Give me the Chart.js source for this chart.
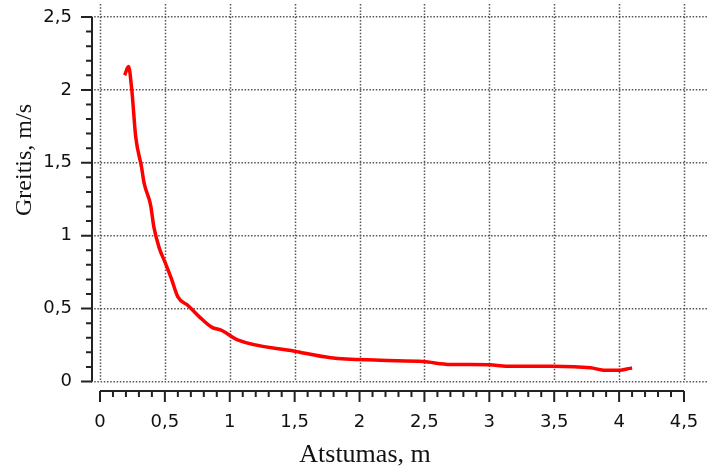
<!DOCTYPE html>
<html>
<head>
<meta charset="utf-8">
<script src="https://cdn.jsdelivr.net/npm/chart.js@4.4.1/dist/chart.umd.min.js"></script>
<style>
  html, body { margin: 0; padding: 0; background: #fff; }
  #wrap { width: 708px; height: 470px; }
</style>
</head>
<body>
<div id="wrap"><canvas id="speedChart" width="708" height="470"></canvas></div>
<script>
// distance from the source (m) and measured flow speed (m/s)
const distance = [0.19, 0.22, 0.245, 0.275, 0.32, 0.34, 0.39, 0.415, 0.455, 0.50, 0.55, 0.60, 0.68, 0.77, 0.86, 0.94, 1.06, 1.5, 1.78, 2.16, 2.49, 2.70, 3.0, 3.13, 3.49, 3.78, 3.88, 4.01, 4.06, 4.10];
const speed = [2.10, 2.16, 2.0, 1.68, 1.47, 1.36, 1.21, 1.06, 0.92, 0.82, 0.705, 0.58, 0.52, 0.44, 0.373, 0.35, 0.285, 0.208, 0.163, 0.146, 0.137, 0.117, 0.115, 0.104, 0.105, 0.094, 0.078, 0.077, 0.086, 0.092];

const xTicks = [0, 0.5, 1, 1.5, 2, 2.5, 3, 3.5, 4, 4.5];
const yTicks = [0, 0.5, 1, 1.5, 2, 2.5];
const xTitle = 'Atstumas, m';
const yTitle = 'Greitis, m/s';

const fmt = v => String(v).replace('.', ',');
const tickFont = { family: 'DejaVu Sans', size: 18 };
const gridColor = '#555';
const gridDash = [1.5, 1.7];

// no extra room for edge labels, the area is sized by hand
const noPadding = s => {
  s.paddingTop = 0; s.paddingBottom = 0;
  s.paddingLeft = 0; s.paddingRight = 0;
};

// axes lines with major/minor tick marks, vertical grid and axis titles
const axesPlugin = {
  id: 'axes',
  beforeDatasetsDraw(chart) {
    const { ctx, chartArea, scales: { x, y } } = chart;
    ctx.save();
    ctx.strokeStyle = gridColor;
    ctx.lineWidth = 1.5;
    ctx.setLineDash(gridDash);
    xTicks.forEach(v => {
      const px = Math.round(x.getPixelForValue(v)) + 0.5;
      ctx.beginPath();
      ctx.moveTo(px, chartArea.top);
      ctx.lineTo(px, y.getPixelForValue(0));
      ctx.stroke();
    });
    ctx.restore();
  },
  afterDraw(chart) {
    const { ctx, chartArea, scales: { x, y } } = chart;
    ctx.save();
    ctx.strokeStyle = '#222';
    ctx.lineWidth = 2;
    const ax = chartArea.left + 1;
    const ay = chartArea.bottom - 1;
    ctx.beginPath();
    ctx.moveTo(ax, y.getPixelForValue(0));
    ctx.lineTo(ax, y.getPixelForValue(2.5));
    ctx.moveTo(x.getPixelForValue(0), ay);
    ctx.lineTo(x.getPixelForValue(4.5), ay);
    for (let i = 0; i <= 25; i++) {
      const py = y.getPixelForValue(i / 10);
      ctx.moveTo(ax, py);
      ctx.lineTo(ax - (i % 5 === 0 ? 11 : 6), py);
    }
    for (let i = 0; i <= 45; i++) {
      const px = x.getPixelForValue(i / 10);
      ctx.moveTo(px, ay);
      ctx.lineTo(px, ay + (i % 5 === 0 ? 11 : 6));
    }
    ctx.stroke();

    ctx.fillStyle = '#111';
    ctx.textAlign = 'center';
    ctx.textBaseline = 'middle';
    ctx.font = '26px "Liberation Serif"';
    ctx.fillText(xTitle, 365, 455);
    ctx.font = '24px "Liberation Serif"';
    ctx.translate(25, 160);
    ctx.rotate(-Math.PI / 2);
    ctx.fillText(yTitle, 0, 0);
    ctx.restore();
  }
};

new Chart(document.getElementById('speedChart'), {
  type: 'line',
  data: {
    datasets: [{
      data: distance.map((d, i) => ({ x: d, y: speed[i] })),
      borderColor: '#ff0000',
      borderWidth: 3.5,
      pointRadius: 0,
      fill: false,
      cubicInterpolationMode: 'monotone'
    }]
  },
  options: {
    responsive: false,
    animation: false,
    layout: { padding: { top: 4, right: 0, left: 0, bottom: 0 } },
    plugins: { legend: { display: false }, tooltip: { enabled: false } },
    scales: {
      x: {
        type: 'linear',
        min: -0.0693,
        max: 4.685,
        afterBuildTicks: s => { s.ticks = xTicks.map(v => ({ value: v })); },
        afterFit: s => { s.height = 78; noPadding(s); },
        grid: { display: false, drawTicks: false },
        border: { display: false },
        ticks: { font: tickFont, color: '#111', padding: 20, maxRotation: 0, callback: v => fmt(v) }
      },
      y: {
        type: 'linear',
        min: -0.072,
        max: 2.589,
        afterBuildTicks: s => { s.ticks = yTicks.map(v => ({ value: v })); },
        afterFit: s => { s.width = 91; noPadding(s); },
        grid: { color: gridColor, lineWidth: 1.5, drawTicks: false },
        border: { display: false, dash: gridDash },
        ticks: { font: tickFont, color: '#111', padding: 19, callback: v => fmt(v) }
      }
    }
  },
  plugins: [axesPlugin]
});
</script>
</body>
</html>
